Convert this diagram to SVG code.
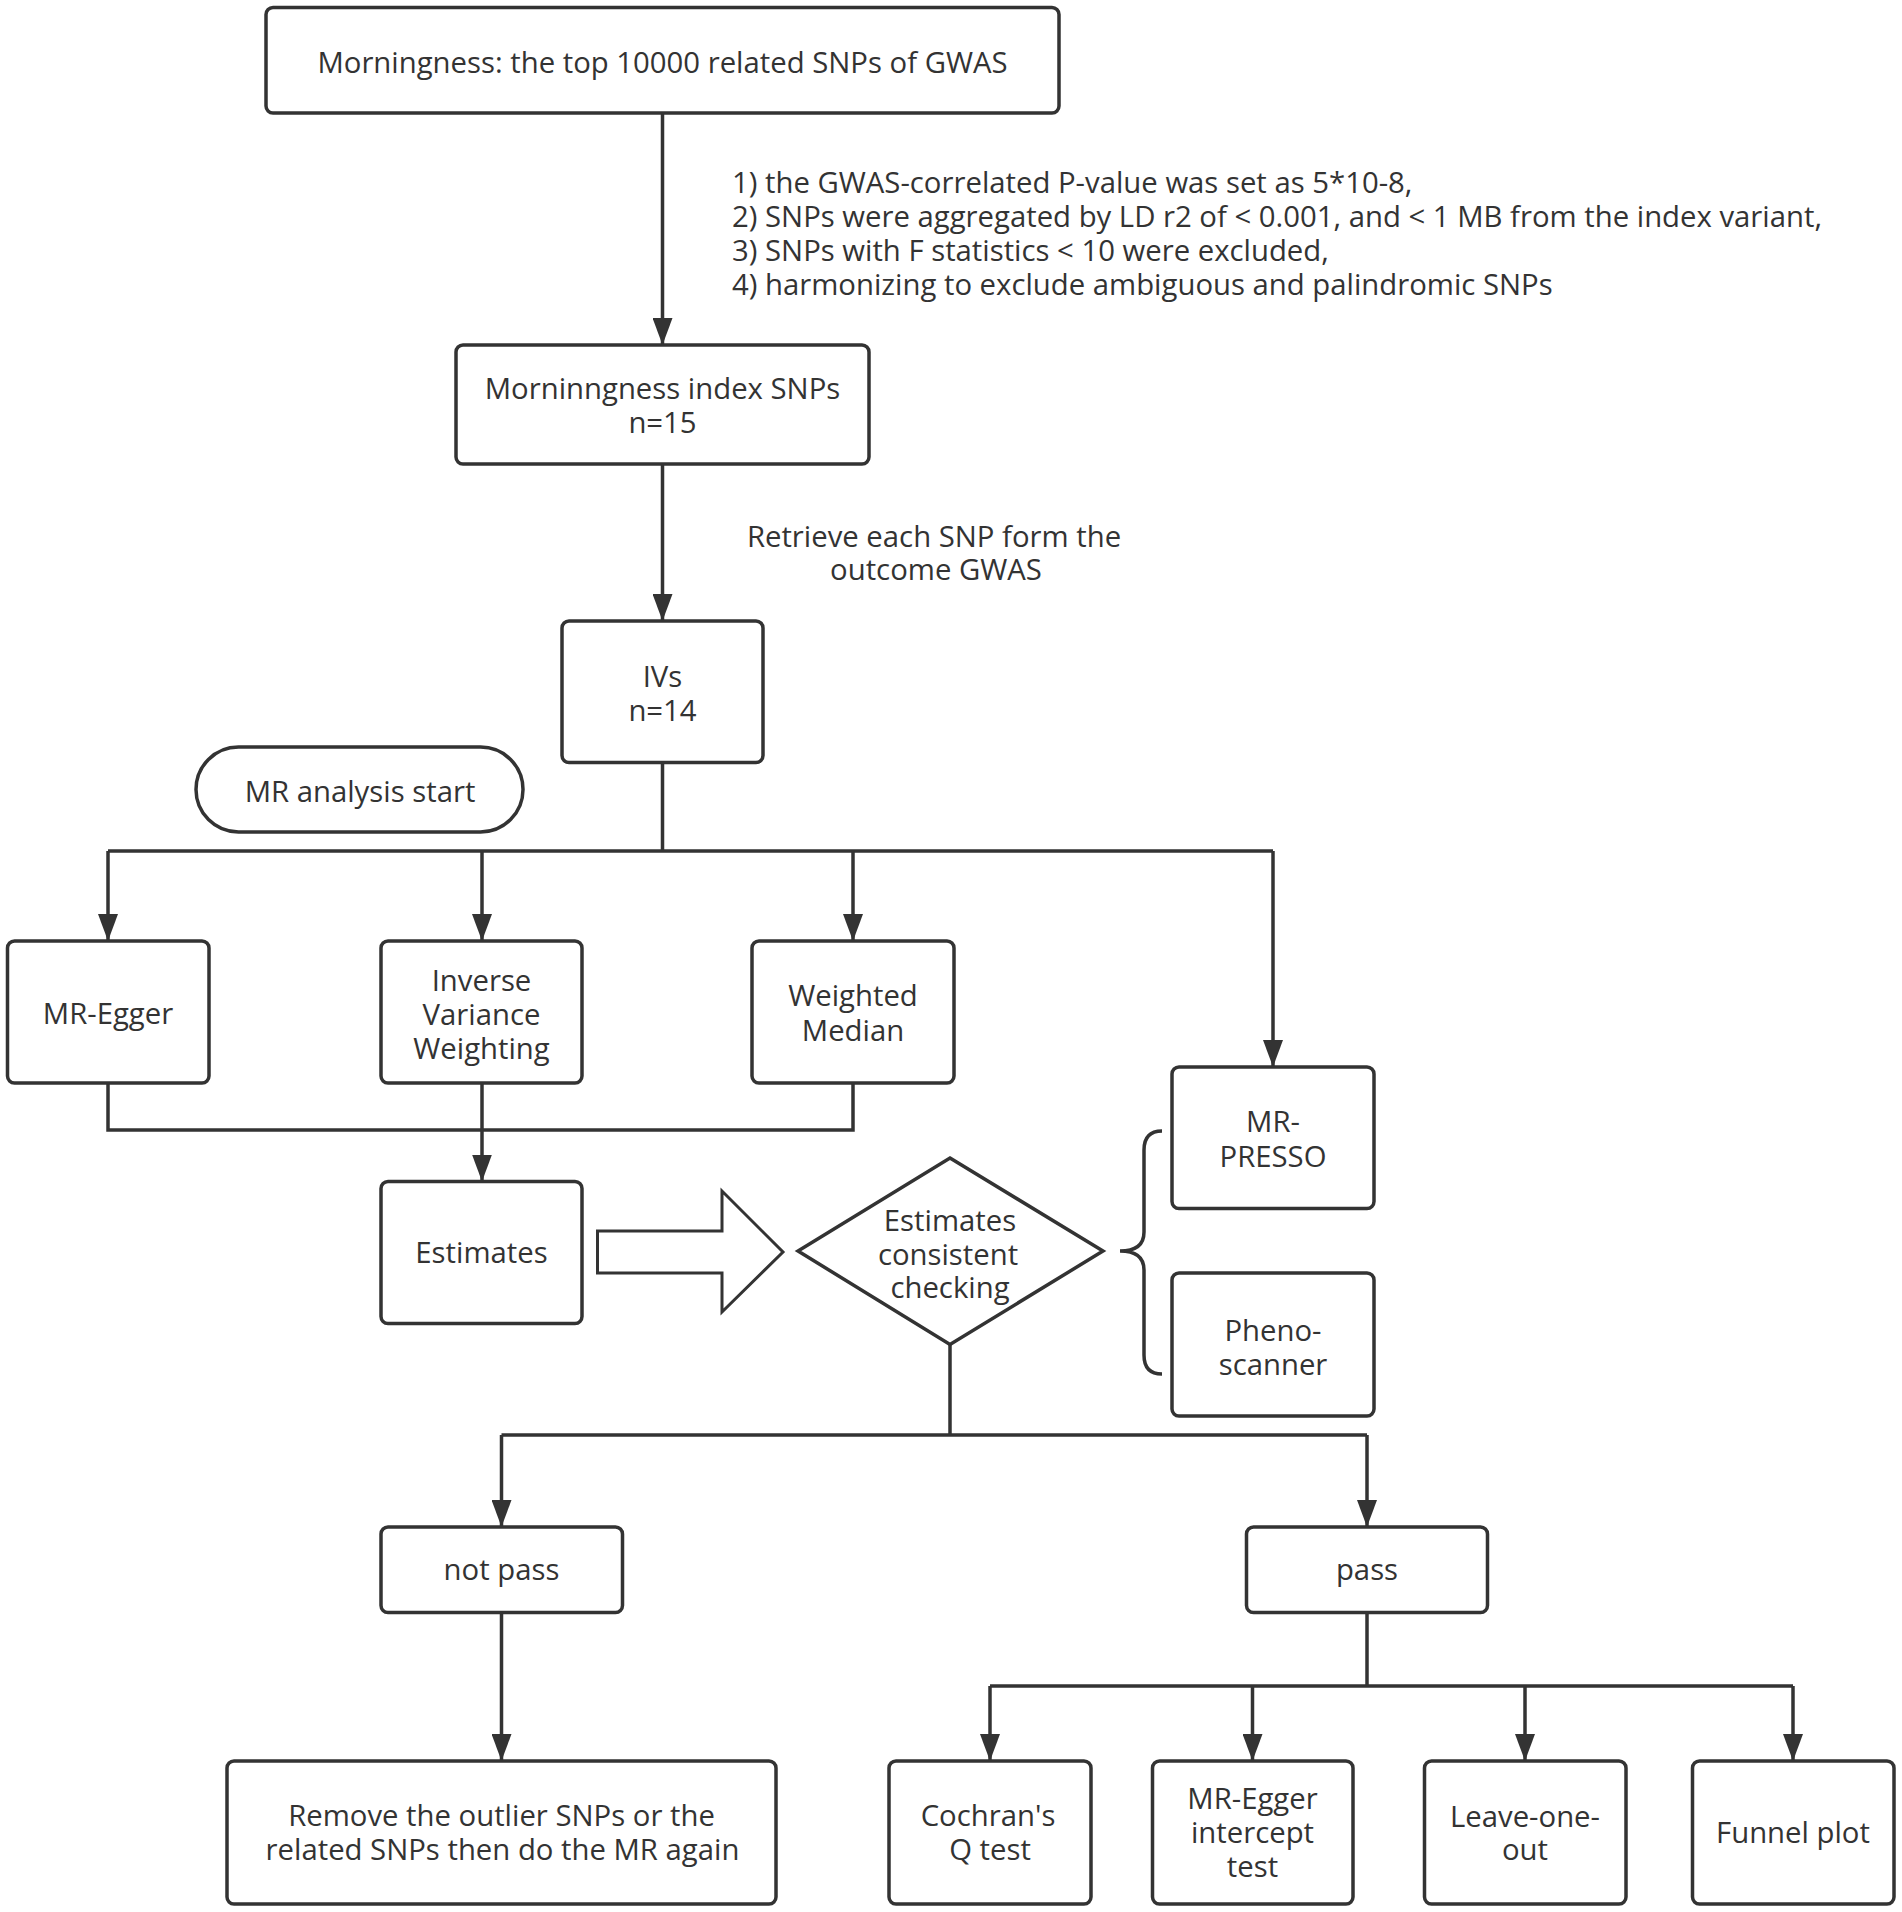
<svg xmlns="http://www.w3.org/2000/svg" width="1902" height="1912" viewBox="0 0 1902 1912">
<style>
.box{fill:#fff;stroke:#333;stroke-width:3.5}
.ln{fill:none;stroke:#333;stroke-width:3.5}
.t{font-family:"Open Sans","Noto Sans",sans-serif;font-size:29.3px;fill:#333;text-anchor:middle}
.a{font-family:"Open Sans","Noto Sans",sans-serif;font-size:29.3px;fill:#333}
</style>
<defs>
<marker id="ah" viewBox="0 0 27 20" refX="27" refY="10" markerWidth="27" markerHeight="20" markerUnits="userSpaceOnUse" orient="auto">
<path d="M0,0 L27,10 L0,20 z" fill="#333"/>
</marker>
</defs>
<rect width="1902" height="1912" fill="#fff"/>
<g id="connectors">
<path class="ln" d="M662.5,113 V345" marker-end="url(#ah)"/>
<path class="ln" d="M662.5,464 V621" marker-end="url(#ah)"/>
<path class="ln" d="M662.5,762 V851 M108,851 H1273"/>
<path class="ln" d="M108,851 V941" marker-end="url(#ah)"/>
<path class="ln" d="M482,851 V941" marker-end="url(#ah)"/>
<path class="ln" d="M853,851 V941" marker-end="url(#ah)"/>
<path class="ln" d="M1273,851 V1067" marker-end="url(#ah)"/>
<path class="ln" d="M108,1083 V1130 H853 V1083"/>
<path class="ln" d="M482,1083 V1181.5" marker-end="url(#ah)"/>
<path class="ln" d="M950,1344 V1435 M501.5,1435 H1367"/>
<path class="ln" d="M501.5,1435 V1527" marker-end="url(#ah)"/>
<path class="ln" d="M1367,1435 V1527" marker-end="url(#ah)"/>
<path class="ln" d="M501.5,1612.5 V1761" marker-end="url(#ah)"/>
<path class="ln" d="M1367,1612.5 V1686 M990,1686 H1793"/>
<path class="ln" d="M990,1686 V1761" marker-end="url(#ah)"/>
<path class="ln" d="M1252.5,1686 V1761" marker-end="url(#ah)"/>
<path class="ln" d="M1525,1686 V1761" marker-end="url(#ah)"/>
<path class="ln" d="M1793,1686 V1761" marker-end="url(#ah)"/>
<path id="bigarrow" fill="#fff" stroke="#333" stroke-width="3" d="M597.5,1231 H722 V1191 L783,1252 L722,1312 V1273 H597.5 Z"/>
<path id="brace" class="ln" stroke-width="3" d="M1162,1131 Q1144,1131 1144,1150 V1232 Q1144,1251 1120,1251 Q1144,1251 1144,1270 V1355 Q1144,1374 1162,1374"/>
</g>
<g id="top">
<rect class="box" x="266" y="7.5" width="793" height="105.5" rx="7"/>
<text class="t" x="662.5" y="73">Morningness: the top 10000 related SNPs of GWAS</text>
</g>
<g id="criteria">
<text class="a" x="732" y="193"><tspan x="732">1) the GWAS-correlated P-value was set as 5*10-8,</tspan><tspan x="732" dy="34">2) SNPs were aggregated by LD r2 of &lt; 0.001, and &lt; 1 MB from the index variant,</tspan><tspan x="732" dy="34">3) SNPs with F statistics &lt; 10 were excluded,</tspan><tspan x="732" dy="34">4) harmonizing to exclude ambiguous and palindromic SNPs</tspan></text>
</g>
<g id="indexsnps">
<rect class="box" x="456" y="345" width="413" height="119" rx="7"/>
<text class="t" x="662.5" y="399"><tspan x="662.5">Morninngness index SNPs</tspan><tspan x="662.5" dy="34">n=15</tspan></text>
</g>
<g id="retrieve">
<text class="t" x="934" y="547"><tspan x="934">Retrieve each SNP form the</tspan><tspan x="936" dy="33">outcome GWAS</tspan></text>
</g>
<g id="ivs">
<rect class="box" x="562" y="621" width="201" height="141.5" rx="7"/>
<text class="t" x="662.5" y="687"><tspan x="662.5">IVs</tspan><tspan x="662.5" dy="33.5">n=14</tspan></text>
</g>
<g id="mrstart">
<rect class="box" x="196" y="747" width="327" height="85" rx="42.5"/>
<text class="t" x="360" y="802">MR analysis start</text>
</g>
<g id="mregger">
<rect class="box" x="7.5" y="941" width="201.5" height="142" rx="7"/>
<text class="t" x="108" y="1024">MR-Egger</text>
</g>
<g id="ivw">
<rect class="box" x="381" y="941" width="201" height="142" rx="7"/>
<text class="t" x="481.5" y="991"><tspan x="481.5">Inverse</tspan><tspan x="481.5" dy="34">Variance</tspan><tspan x="481.5" dy="34">Weighting</tspan></text>
</g>
<g id="wm">
<rect class="box" x="752" y="941" width="202" height="142" rx="7"/>
<text class="t" x="853" y="1006"><tspan x="853">Weighted</tspan><tspan x="853" dy="35">Median</tspan></text>
</g>
<g id="presso">
<rect class="box" x="1172" y="1067" width="202" height="141.5" rx="7"/>
<text class="t" x="1273" y="1132"><tspan x="1273">MR-</tspan><tspan x="1273" dy="34.5">PRESSO</tspan></text>
</g>
<g id="estimates">
<rect class="box" x="381" y="1181.5" width="201" height="142" rx="7"/>
<text class="t" x="481.5" y="1263">Estimates</text>
</g>
<g id="check">
<polygon class="box" points="950,1158 1103,1251 950,1344.5 798,1251"/>
<text class="t" x="950" y="1231"><tspan x="950">Estimates</tspan><tspan x="948" dy="34">consistent</tspan><tspan x="950" dy="33">checking</tspan></text>
</g>
<g id="pheno">
<rect class="box" x="1172" y="1273" width="202" height="143" rx="7"/>
<text class="t" x="1273" y="1340.5"><tspan x="1273">Pheno-</tspan><tspan x="1273" dy="34">scanner</tspan></text>
</g>
<g id="notpass">
<rect class="box" x="381" y="1527" width="241.5" height="85.5" rx="7"/>
<text class="t" x="501.5" y="1580">not pass</text>
</g>
<g id="pass">
<rect class="box" x="1246.5" y="1527" width="241" height="85.5" rx="7"/>
<text class="t" x="1367" y="1580">pass</text>
</g>
<g id="remove">
<rect class="box" x="227" y="1761" width="549" height="143" rx="7"/>
<text class="t" x="501.5" y="1826"><tspan x="501.5">Remove the outlier SNPs or the</tspan><tspan x="502.5" dy="34">related SNPs then do the MR again</tspan></text>
</g>
<g id="cochran">
<rect class="box" x="889" y="1761" width="202" height="143" rx="7"/>
<text class="t" x="988" y="1826"><tspan x="988">Cochran's</tspan><tspan x="990" dy="34">Q test</tspan></text>
</g>
<g id="intercept">
<rect class="box" x="1152.5" y="1761" width="200.5" height="143" rx="7"/>
<text class="t" x="1252.5" y="1809"><tspan x="1252.5">MR-Egger</tspan><tspan x="1252.5" dy="34">intercept</tspan><tspan x="1252.5" dy="34">test</tspan></text>
</g>
<g id="leave">
<rect class="box" x="1424.5" y="1761" width="201.5" height="143" rx="7"/>
<text class="t" x="1525" y="1827"><tspan x="1525">Leave-one-</tspan><tspan x="1525" dy="33">out</tspan></text>
</g>
<g id="funnel">
<rect class="box" x="1692.5" y="1761" width="201.5" height="143" rx="7"/>
<text class="t" x="1793" y="1843">Funnel plot</text>
</g>
</svg>
